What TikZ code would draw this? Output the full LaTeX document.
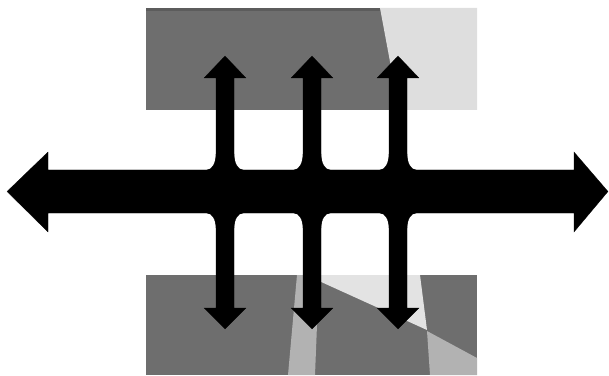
\documentclass[tikz,border=0pt]{standalone}
\begin{document}
\begin{tikzpicture}[x=1pt,y=1pt,
  darkfill/.style={fill=black!57},
  toplight/.style={fill=black!13},
  botlight/.style={fill=black!11},
  midfill/.style={fill=black!30},
  blk/.style={fill=black,draw=black,line width=0.2pt}]
\useasboundingbox (0,0) rectangle (609,375);
% top panel (y up = 375 - image y)
\path[darkfill] (146,265) rectangle (477,367);
\fill[black!64] (146,364) rectangle (380,367);
\path[toplight] (380,367) -- (477,367) -- (477,265) -- (399,265) -- cycle;
% bottom panel
\path[darkfill] (146,0) rectangle (477,100);
\path[midfill] (297,100) -- (319,100) -- (315,0) -- (288,0) -- cycle;
\path[botlight] (319,100) -- (420,100) -- (427,45) -- (319,94) -- cycle;
\path[midfill] (427,44) -- (477,17) -- (477,0) -- (430,0) -- cycle;
% horizontal double arrow
\path[blk] (7,183.5) -- (48,223) -- (48,205) -- (574,205) -- (574,223) -- (608,183.5)
  -- (574,143) -- (574,162) -- (48,162) -- (48,143) -- cycle;
% vertical double arrows
\foreach \c in {225,312,398}{
  \path[blk] (\c-9,162) -- (\c-9,297) -- (\c-21,297) -- (\c,319) -- (\c+21,297) -- (\c+9,297)
    -- (\c+9,67) -- (\c+21,67) -- (\c,46) -- (\c-21,67) -- (\c-9,67) -- cycle;
  % fillets
  \path[blk] (\c-9,205) -- (\c-9,221) arc[start angle=0,end angle=-90,x radius=9,y radius=16] -- cycle;
  \path[blk] (\c+9,205) -- (\c+9,221) arc[start angle=180,end angle=270,x radius=9,y radius=16] -- cycle;
  \path[blk] (\c-9,162) -- (\c-9,147) arc[start angle=0,end angle=90,x radius=9,y radius=15] -- cycle;
  \path[blk] (\c+9,162) -- (\c+9,147) arc[start angle=180,end angle=90,x radius=9,y radius=15] -- cycle;
}
\end{tikzpicture}
\end{document}
